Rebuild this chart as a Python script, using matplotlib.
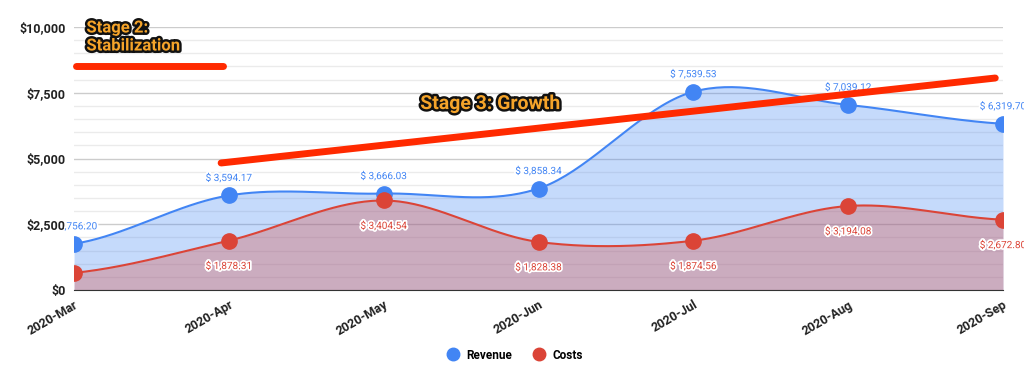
import matplotlib
matplotlib.use("Agg")
import matplotlib.pyplot as plt
import matplotlib.patheffects as pe
from matplotlib.lines import Line2D
from matplotlib.transforms import Bbox, TransformedBbox
import numpy as np

plt.rcParams["font.family"] = ["Roboto", "DejaVu Sans"]

MONTHS = ["2020-Mar", "2020-Apr", "2020-May", "2020-Jun", "2020-Jul", "2020-Aug", "2020-Sep"]
REVENUE = [1756.20, 3594.17, 3666.03, 3858.34, 7539.53, 7039.12, 6319.70]
COSTS = [650.00, 1878.31, 3404.54, 1828.38, 1874.56, 3194.08, 2672.80]

# hand-drawn stage markers: (x0, y0, x1, y1) in month index / dollars
STAGE2_LINE = (0.01, 8500, 0.96, 8500)
STAGE3_LINE = (0.95, 4830, 5.95, 8060)

BLUE = "#4285f4"
RED = "#db4437"
ORANGE = "#f5a42a"


def smooth(xs, ys, n=40):
    # catmull-rom style curve through the points, like the sheets "smooth" line
    xs, ys = np.asarray(xs, float), np.asarray(ys, float)
    px = np.concatenate([[2 * xs[0] - xs[1]], xs, [2 * xs[-1] - xs[-2]]])
    py = np.concatenate([[ys[0]], ys, [ys[-1]]])
    ox, oy = [], []
    for i in range(1, len(px) - 2):
        t = np.linspace(0, 1, n, endpoint=False)
        m0 = (py[i + 1] - py[i - 1]) / 2
        m1 = (py[i + 2] - py[i]) / 2
        h00 = 2 * t**3 - 3 * t**2 + 1
        h10 = t**3 - 2 * t**2 + t
        h01 = -2 * t**3 + 3 * t**2
        h11 = t**3 - t**2
        ox.append(px[i] + t * (px[i + 1] - px[i]))
        oy.append(h00 * py[i] + h10 * m0 + h01 * py[i + 1] + h11 * m1)
    ox.append([xs[-1]])
    oy.append([ys[-1]])
    return np.concatenate(ox), np.concatenate(oy)


fig = plt.figure(figsize=(10.24, 3.83), dpi=100)
ax = fig.add_axes([0.0723, 0.2428, 0.9072, 0.6867])
x = np.arange(len(MONTHS))

for vals, c in [(REVENUE, BLUE), (COSTS, RED)]:
    sx, sy = smooth(x, vals)
    ax.fill_between(sx, 0, sy, color=c, alpha=0.3, lw=0, zorder=2)
    ax.plot(sx, sy, color=c, lw=1.5, zorder=3)
    ax.plot(x, vals, "o", color=c, ms=11, zorder=4)

# data labels are clipped to the chart area (a bit wider than the plot)
label_clip = TransformedBbox(Bbox.from_extents(0.0625, 0.2428, 1.0, 0.93), fig.transFigure)
halo = [pe.withStroke(linewidth=2.5, foreground="white")]
for vals, c, dy, va in [(REVENUE, BLUE, 9, "bottom"), (COSTS, RED, -14, "top")]:
    for xi, v in zip(x, vals):
        t = ax.annotate(f"$ {v:,.2f}", (xi, v), xytext=(0, dy), textcoords="offset points",
                        ha="center", va=va, fontsize=7.2, color=c,
                        path_effects=halo, zorder=5)
        t.set_clip_box(label_clip)
        t.set_clip_on(True)

# stage annotations
for x0, y0, x1, y1 in [STAGE2_LINE, STAGE3_LINE]:
    ax.plot([x0, x1], [y0, y1], color="#ff2a00", lw=5, solid_capstyle="round",
            zorder=6, clip_on=False)
outline = [pe.withStroke(linewidth=3.5, foreground="#111111")]
ax.text(0.08, 9620, "Stage 2:\nStabilization", fontsize=12, fontweight="bold",
        color=ORANGE, va="center", ha="left", linespacing=1.25,
        path_effects=outline, zorder=7, clip_on=False)
ax.text(2.69, 7070, "Stage 3: Growth", fontsize=14, fontweight="bold",
        color=ORANGE, va="center", ha="center", path_effects=outline, zorder=7)

ax.set_xlim(0, len(MONTHS) - 1)
ax.set_ylim(0, 10000)
ax.set_yticks([0, 2500, 5000, 7500, 10000])
ax.set_yticklabels(["$0", "$2,500", "$5,000", "$7,500", "$10,000"],
                   fontsize=9, fontweight="bold", color="#222222")
ax.set_yticks(np.arange(0, 10001, 500), minor=True)
ax.set_xticks(x)
ax.set_xticklabels(MONTHS, rotation=30, ha="right", rotation_mode="anchor",
                   fontsize=9, fontweight="bold", color="#222222")
ax.tick_params(axis="both", length=0, pad=6)
ax.tick_params(axis="y", which="minor", length=0)
ax.grid(axis="y", which="major", color="#cccccc", lw=1, zorder=0)
ax.grid(axis="y", which="minor", color="#ebebeb", lw=1, zorder=0)
for s in ["top", "right", "left"]:
    ax.spines[s].set_visible(False)
ax.spines["bottom"].set_color("#333333")
ax.spines["bottom"].set_zorder(5)

handles = [Line2D([], [], marker="o", ls="", color=BLUE, ms=9, label="Revenue"),
           Line2D([], [], marker="o", ls="", color=RED, ms=9, label="Costs")]
fig.legend(handles=handles, loc="center", bbox_to_anchor=(0.5, 0.073), ncol=2,
           frameon=False, handletextpad=0.2, columnspacing=1.2,
           prop={"weight": "bold", "size": 8.5})

fig.savefig("out.png", dpi=100)
